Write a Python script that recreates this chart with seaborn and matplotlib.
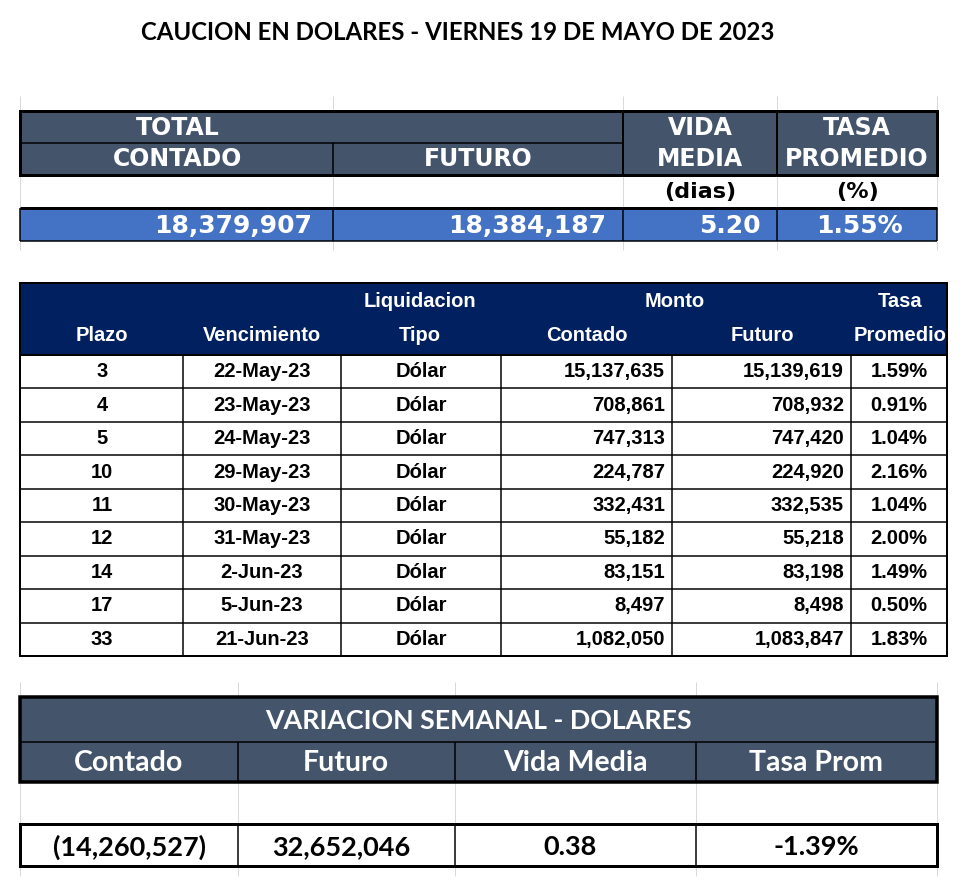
import matplotlib
matplotlib.use("Agg")
import matplotlib.pyplot as plt
from matplotlib import font_manager
from matplotlib.patches import Rectangle
import seaborn as sns

# --- data ---
titulo = "CAUCION EN DOLARES - VIERNES 19 DE MAYO DE 2023"

total_contado = "18,379,907"
total_futuro = "18,384,187"
vida_media = "5.20"
tasa_promedio = "1.55%"

plazo = [3, 4, 5, 10, 11, 12, 14, 17, 33]
vencimiento = ["22-May-23", "23-May-23", "24-May-23", "29-May-23", "30-May-23",
               "31-May-23", "2-Jun-23", "5-Jun-23", "21-Jun-23"]
tipo = ["Dólar"] * 9
contado = [15137635, 708861, 747313, 224787, 332431, 55182, 83151, 8497, 1082050]
futuro = [15139619, 708932, 747420, 224920, 332535, 55218, 83198, 8498, 1083847]
tasa = [1.59, 0.91, 1.04, 2.16, 1.04, 2.00, 1.49, 0.50, 1.83]

var_labels = ["Contado", "Futuro", "Vida Media", "Tasa Prom"]
var_values = ["(14,260,527)", "32,652,046", "0.38", "-1.39%"]

sns.set_theme(style="white")

SLATE = "#44546A"
NAVY = "#002060"
BLUE = "#4472C4"
GRID = "#d9d9d9"
PX = 0.72  # points per pixel at dpi 100

# pick fonts that are really there
fonts = font_manager.fontManager.ttflist
names = {f.name for f in fonts}
bold_names = {f.name for f in fonts if f.weight in (600, 700, 800, "bold", "semibold")}

VERD = ["DejaVu Sans"]
if "Liberation Sans Narrow" in names:
    NARROW, hs = ["Liberation Sans Narrow"], 16.5
else:
    NARROW, hs = ["Liberation Sans"], 14.5
CAL = None
for cand in ["Lato", "Open Sans", "Noto Sans", "Liberation Sans"]:
    if cand in bold_names:
        CAL = [cand]
        break
if CAL is None:
    CAL = ["DejaVu Sans"]
cal_scale = 1.0 if CAL[0] == "Lato" else 0.9

fig = plt.figure(figsize=(9.74, 8.88), dpi=100)
ax = fig.add_axes([0, 0, 1, 1])
ax.set_xlim(0, 974)
ax.set_ylim(888, 0)
ax.axis("off")


def box(x0, x1, y0, y1, fc="none", ec="none", lw=0, z=1):
    ax.add_patch(Rectangle((x0, y0), x1 - x0, y1 - y0, facecolor=fc,
                           edgecolor=ec, linewidth=lw * PX, zorder=z))


def hline(y, x0, x1, lw=1.5, c="black", z=3):
    ax.plot([x0, x1], [y, y], color=c, lw=lw * PX, zorder=z, solid_capstyle="butt")


def vline(x, y0, y1, lw=1.5, c="black", z=3):
    ax.plot([x, x], [y0, y1], color=c, lw=lw * PX, zorder=z, solid_capstyle="butt")


def txt(x, y, s, fam, size, color="black", ha="center", weight="bold"):
    ax.text(x, y, s, family=fam, fontsize=size, color=color, ha=ha, va="center",
            weight=weight, zorder=5)


# title
txt(458, 33, titulo, CAL, 17.3 * cal_scale)

# ---------- table 1 ----------
c1 = [20, 333, 623, 777, 937]
box(20, 937, 111, 175, fc=SLATE)
box(20, 937, 208, 241, fc=BLUE)
for x in c1:
    vline(x, 175, 208, lw=1, c=GRID, z=0)
    vline(x, 96, 111, lw=1, c=GRID, z=0)
    vline(x, 241, 250, lw=1, c=GRID, z=0)
hline(143, 20, 623, lw=1.5)
vline(333, 143, 175, lw=1.5)
vline(623, 111, 175, lw=2)
vline(777, 111, 175, lw=2)
box(20, 937, 111, 175, ec="black", lw=3, z=4)
hline(208, 20, 937, lw=3)
hline(241, 20, 937, lw=1.5)
for x in c1:
    vline(x, 208, 241, lw=1.5)

hd = 17
txt(178, 128, "TOTAL", VERD, hd, "white")
txt(178, 159, "CONTADO", VERD, hd, "white")
txt(478, 159, "FUTURO", VERD, hd, "white")
txt(700, 128, "VIDA", VERD, hd, "white")
txt(700, 159, "MEDIA", VERD, hd, "white")
txt(857, 128, "TASA", VERD, hd, "white")
txt(857, 159, "PROMEDIO", VERD, hd, "white")
txt(700, 192, "(dias)", VERD, 16)
txt(857, 192, "(%)", VERD, 16)
txt(312, 226, total_contado, VERD, 18, "white", ha="right")
txt(606, 226, total_futuro, VERD, 18, "white", ha="right")
txt(761, 226, vida_media, VERD, 18, "white", ha="right")
txt(859, 226, tasa_promedio, VERD, 18, "white")

# ---------- table 2 ----------
c2 = [20, 183, 341, 501, 672, 851, 947]
top2, head2 = 283, 355
rh = (656 - head2) / len(plazo)
box(20, 947, top2, head2, fc=NAVY)
box(20, 947, top2, 656, ec="black", lw=2, z=4)
hline(head2, 20, 947, lw=2)
for i in range(1, len(plazo)):
    hline(head2 + i * rh, 20, 947, lw=1.5)
for x in c2[1:-1]:
    vline(x, head2, 656, lw=1.5)

txt(420, 301, "Liquidacion", NARROW, hs, "white")
txt(675, 301, "Monto", NARROW, hs, "white")
txt(900, 301, "Tasa", NARROW, hs, "white")
for x, s in zip([102, 262, 420, 587, 762, 900],
                ["Plazo", "Vencimiento", "Tipo", "Contado", "Futuro", "Promedio"]):
    txt(x, 335, s, NARROW, hs, "white")

for i in range(len(plazo)):
    y = head2 + (i + 0.5) * rh
    txt(102, y, str(plazo[i]), NARROW, hs)
    txt(262, y, vencimiento[i], NARROW, hs)
    txt(421, y, tipo[i], NARROW, hs)
    txt(665, y, f"{contado[i]:,}", NARROW, hs, ha="right")
    txt(844, y, f"{futuro[i]:,}", NARROW, hs, ha="right")
    txt(899, y, f"{tasa[i]:.2f}%", NARROW, hs)

# ---------- table 3 ----------
c3 = [20, 238, 455, 696, 937]
box(20, 937, 697, 782, fc=SLATE)
hline(742, 20, 937, lw=1.5)
for x in c3[1:-1]:
    vline(x, 742, 782, lw=1.5)
box(20, 937, 697, 782, ec="black", lw=3.5, z=4)
for x in c3:
    vline(x, 782, 824, lw=1, c=GRID, z=0)
    vline(x, 682, 697, lw=1, c=GRID, z=0)
    vline(x, 866, 876, lw=1, c=GRID, z=0)
box(20, 937, 824, 866, fc="white", ec="black", lw=3, z=4)
for x in c3[1:-1]:
    vline(x, 824, 866, lw=1.5, z=5)

txt(478, 721, "VARIACION SEMANAL - DOLARES", CAL, 19.3 * cal_scale, "white")
for x, s in zip([129, 346, 575, 816], var_labels):
    txt(x, 763, s, CAL, 20.5 * cal_scale, "white")
for x, s in zip([129, 341, 570, 816], var_values):
    txt(x, 847, s, CAL, 19.5 * cal_scale)

fig.savefig("out.png", dpi=100)
